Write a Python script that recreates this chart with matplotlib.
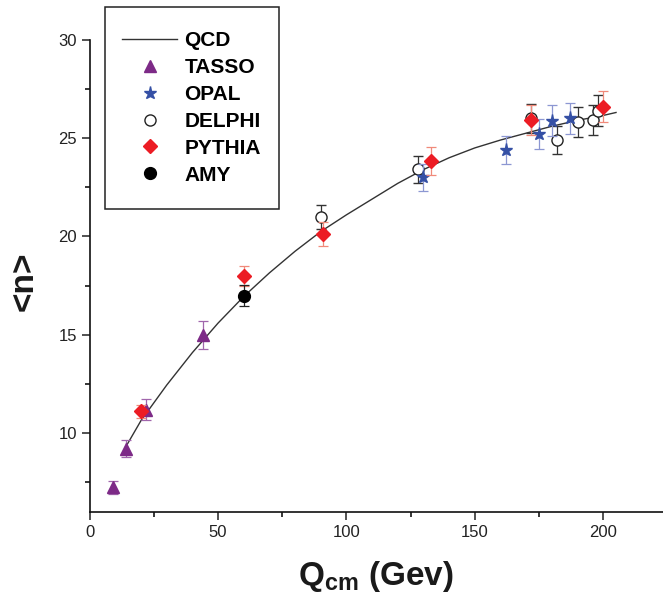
import numpy as np
import matplotlib
matplotlib.use("Agg")
import matplotlib.pyplot as plt
from matplotlib.lines import Line2D
from matplotlib.patches import Rectangle
from matplotlib.ticker import MultipleLocator

plt.rcParams['font.family'] = ['Liberation Sans', 'DejaVu Sans']
plt.rcParams['mathtext.fontset'] = 'custom'
plt.rcParams['mathtext.rm'] = 'Liberation Sans'
plt.rcParams['mathtext.bf'] = 'Liberation Sans:bold'

# QCD prediction
qcd_x = [14, 20, 30, 40, 50, 60, 70, 80, 90, 100, 110, 120, 130, 140,
         150, 160, 170, 180, 190, 200, 205]
qcd_y = [9.3, 10.65, 12.45, 14.1, 15.6, 16.95, 18.15, 19.25, 20.25, 21.1,
         21.9, 22.7, 23.4, 24.0, 24.5, 24.9, 25.25, 25.6, 25.9, 26.15, 26.3]

tasso_x = [9, 14, 22, 44]
tasso_y = [7.25, 9.22, 11.2, 15.0]
tasso_err = [0.35, 0.44, 0.55, 0.73]

opal_x = [130, 162, 175, 180, 187]
opal_y = [23.0, 24.41, 25.2, 25.88, 26.0]
opal_err = [0.68, 0.72, 0.76, 0.78, 0.77]

delphi_x = [90, 128, 172, 182, 190, 196, 198]
delphi_y = [20.98, 23.42, 26.0, 24.9, 25.8, 25.92, 26.4]
delphi_err = [0.6, 0.69, 0.75, 0.72, 0.77, 0.78, 0.8]

pythia_x = [20, 60, 91, 133, 172, 200]
pythia_y = [11.12, 18.0, 20.13, 23.83, 25.92, 26.6]
pythia_err = [0.32, 0.51, 0.6, 0.7, 0.77, 0.78]

amy_x = [60]
amy_y = [16.99]
amy_err = [0.52]

fig = plt.figure(figsize=(6.63, 6.02), dpi=100)
ax = fig.add_axes([0.1353, 0.1495, 0.8647, 0.7846])

ax.plot(qcd_x, qcd_y, color='#333333', lw=1.0, zorder=2)

eb = dict(ls='none', capsize=3.5, elinewidth=0.9, capthick=0.9)
ax.errorbar(tasso_x, tasso_y, yerr=tasso_err, marker='^', ms=9,
            mfc='#7d2a87', mec='#7d2a87', ecolor='#a066ac', zorder=3, **eb)
ax.errorbar(delphi_x, delphi_y, yerr=delphi_err, marker='o', ms=8,
            mfc='white', mec='#222222', mew=1.0, ecolor='#333333', zorder=3, **eb)
ax.errorbar(opal_x, opal_y, yerr=opal_err, marker='*', ms=9.5,
            mfc='#3550a5', mec='#3550a5', ecolor='#8c97d2', zorder=4, **eb)
ax.errorbar(pythia_x, pythia_y, yerr=pythia_err, marker='D', ms=7,
            mfc='#ec1c24', mec='#ec1c24', ecolor='#f08a7a', zorder=5, **eb)
ax.errorbar(amy_x, amy_y, yerr=amy_err, marker='o', ms=8.5,
            mfc='black', mec='black', ecolor='#222222', zorder=5, **eb)

ax.set_xlim(0, 223.3)
ax.set_ylim(6, 30)
ax.set_xticks([0, 50, 100, 150, 200])
ax.set_yticks([10, 15, 20, 25, 30])
ax.xaxis.set_minor_locator(MultipleLocator(25))
ax.yaxis.set_minor_locator(MultipleLocator(2.5))
ax.tick_params(which='major', direction='out', length=6, width=1.1,
               labelsize=12, colors='#222222', pad=3)
ax.tick_params(which='minor', direction='out', length=3.5, width=1.1)
for side in ('top', 'right'):
    ax.spines[side].set_visible(False)
for side in ('left', 'bottom'):
    ax.spines[side].set_linewidth(1.2)
    ax.spines[side].set_color('#111111')

fig.text(24 / 663, 1 - 281 / 602, '<n>', rotation=90, fontsize=24,
         fontweight='bold', ha='center', va='center', color='#1a1a1a')
fig.text(376 / 663, 1 - 585 / 602, r'$\mathbf{Q}_{\mathbf{cm}}$ (Gev)',
         fontsize=24, fontweight='bold', ha='center', va='baseline',
         color='#1a1a1a')

# legend box drawn on its own, entries placed inside without a frame
box = Rectangle((105 / 663, 1 - 209 / 602), 174 / 663, 202 / 602,
                transform=fig.transFigure, facecolor='white',
                edgecolor='#222222', linewidth=1.1, zorder=10)
fig.patches.append(box)

handles = [
    Line2D([], [], color='#333333', lw=1.0),
    Line2D([], [], ls='none', marker='^', ms=9, mfc='#7d2a87', mec='#7d2a87'),
    Line2D([], [], ls='none', marker='*', ms=9.5, mfc='#3550a5', mec='#3550a5'),
    Line2D([], [], ls='none', marker='o', ms=8, mfc='white', mec='#222222'),
    Line2D([], [], ls='none', marker='D', ms=7, mfc='#ec1c24', mec='#ec1c24'),
    Line2D([], [], ls='none', marker='o', ms=8.5, mfc='black', mec='black'),
]
labels = ['QCD', 'TASSO', 'OPAL', 'DELPHI', 'PYTHIA', 'AMY']
leg = fig.legend(handles, labels, loc='upper left',
                 bbox_to_anchor=(121.7 / 663, 1 - 31.5 / 602),
                 prop={'weight': 'bold', 'size': 15},
                 frameon=False, borderpad=0, labelspacing=0.375,
                 handlelength=2.67, handletextpad=0.34, borderaxespad=0)
leg.set_zorder(11)

fig.savefig('out.png', dpi=100)
